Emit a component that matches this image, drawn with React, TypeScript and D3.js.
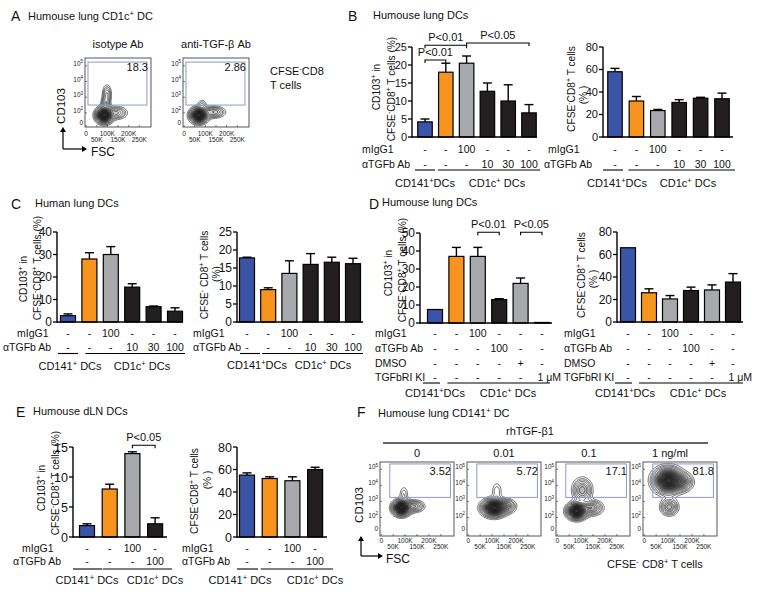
import React from "react";
import * as d3 from "d3";

const FONT = "'Liberation Sans', Arial, Helvetica, sans-serif";
const BLUE = "#3a55a5";
const ORANGE = "#f7941d";
const GRAY = "#a7a9ac";
const BLACK = "#231f20";
const GATE = "#8e98c9";

// ---------- bar panel data ----------
const groupNamesTight = ["CD141{+}DCs", "CD1c{+} DCs"];
const groupNamesSpaced = ["CD141{+} DCs", "CD1c{+} DCs"];

const bMIgG1 = ["-", "-", "100", "-", "-", "-"];
const bAntiTGFb = ["-", "-", "-", "10", "30", "100"];
const bColors = [BLUE, ORANGE, GRAY, BLACK, BLACK, BLACK];
const bCD103 = [4.2, 18, 20.5, 12.7, 10, 6.7];
const bCD103Err = [0.8, 2.5, 2.0, 2.3, 4.5, 2.3];
const bCFSE = [58, 32, 23.5, 30.7, 34.5, 34];
const bCFSEErr = [3, 4, 1, 2.5, 0.8, 5];

const cMIgG1 = ["-", "-", "100", "-", "-", "-"];
const cAntiTGFb = ["-", "-", "-", "10", "30", "100"];
const cColors = [BLUE, ORANGE, GRAY, BLACK, BLACK, BLACK];
const cCD103 = [2.8, 28, 30, 15.5, 6.8, 4.8];
const cCD103Err = [0.8, 2.8, 3.5, 1.5, 0.3, 1.5];
const cCFSE = [17.8, 9, 13.5, 16, 16.6, 16.2];
const cCFSEErr = [0.2, 0.5, 3.5, 3, 1.4, 1.5];

const dMIgG1 = ["-", "-", "100", "-", "-", "-"];
const dAntiTGFb = ["-", "-", "-", "100", "-", "-"];
const dDMSO = ["-", "-", "-", "-", "+", "-"];
const dKI = ["-", "-", "-", "-", "-", "1 μM"];
const dColors = [BLUE, ORANGE, GRAY, BLACK, GRAY, BLACK];
const dCD103 = [7.5, 37, 37, 13, 22, 0.3];
const dCD103Err = [0, 5, 5, 0.5, 3, 0];
const dCFSE = [66, 26, 20.5, 28, 28.5, 35.5];
const dCFSEErr = [0, 3.5, 3, 3, 4.5, 7.5];

const eMIgG1 = ["-", "-", "100", "-"];
const eAntiTGFb = ["-", "-", "-", "100"];
const eColors = [BLUE, ORANGE, GRAY, BLACK];
const eCD103 = [1.9, 8, 13.9, 2.2];
const eCD103Err = [0.3, 0.8, 0.3, 1.0];
const eCFSE = [55, 52, 50, 60];
const eCFSEErr = [2, 1.5, 3.5, 2];

// ---------- flow data ----------
const fscTicks = [0, 50, 100, 150, 200, 250];
const fscTickLabels = ["0", "50K", "100K", "150K", "200K", "250K"];
const cd103Decades = [5, 4, 3, 2];
const cd103DecadeLabels = ["10{5}", "10{4}", "10{3}", "10{2}"];

const aTitles = ["isotype Ab", "anti-TGF-β Ab"];
const aPercents = ["18.3", "2.86"];
// blobs: [FSC (K), log10 CD103, sd FSC (K), sd decade, weight]
const aBlobs: number[][][] = [
  [[85, 1.85, 21, 0.27, 1], [145, 2.0, 26, 0.22, 0.25], [98, 3.2, 12, 0.33, 0.2], [92, 2.6, 12, 0.25, 0.2]],
  [[70, 1.85, 22, 0.26, 1], [140, 2.05, 28, 0.2, 0.3], [85, 2.55, 12, 0.18, 0.1]],
];

const fDoses = ["0", "0.01", "0.1", "1 ng/ml"];
const fPercents = ["3.52", "5.72", "17.1", "81.8"];
const fBlobs: number[][][] = [
  [[85, 2.6, 20, 0.26, 1], [140, 2.7, 22, 0.2, 0.3], [95, 3.45, 11, 0.3, 0.1]],
  [[108, 2.6, 27, 0.29, 1], [160, 2.7, 22, 0.24, 0.3], [120, 3.65, 13, 0.33, 0.1]],
  [[82, 2.4, 22, 0.27, 1], [145, 2.6, 25, 0.25, 0.35], [105, 3.7, 22, 0.4, 0.35]],
  [[100, 4.3, 33, 0.42, 1], [160, 4.2, 24, 0.3, 0.35], [105, 2.65, 20, 0.28, 0.35]],
];

const contourLevels = [0.04, 0.07, 0.1, 0.14, 0.19, 0.24, 0.3, 0.36, 0.42, 0.48, 0.54, 0.6, 0.66, 0.72, 0.78, 0.84, 0.9, 0.95];

// ---------- helpers ----------
function Rich({ text, fs }: { text: string; fs: number }) {
  const parts = text.split(/(\{[^}]*\})/).filter((p) => p.length > 0);
  const out: React.ReactNode[] = [];
  let up = false;
  parts.forEach((p, i) => {
    if (p.startsWith("{")) {
      out.push(
        <tspan key={i} dy={-fs * 0.4} fontSize={fs * 0.68}>
          {p.slice(1, -1)}
        </tspan>
      );
      up = true;
    } else {
      out.push(
        <tspan key={i} dy={up ? fs * 0.4 : 0}>
          {p}
        </tspan>
      );
      up = false;
    }
  });
  return <>{out}</>;
}

function T(props: { x: number; y: number; text: string; fs: number; anchor?: string; rotate?: boolean }) {
  const { x, y, text, fs, anchor = "start", rotate = false } = props;
  if (rotate) {
    return (
      <text transform={`translate(${x},${y}) rotate(-90)`} fontSize={fs} textAnchor="middle" fontFamily={FONT} fill="#111">
        <Rich text={text} fs={fs} />
      </text>
    );
  }
  return (
    <text x={x} y={y} fontSize={fs} textAnchor={anchor as any} fontFamily={FONT} fill="#111">
      <Rich text={text} fs={fs} />
    </text>
  );
}

type Row = { label: string; labelX: number; y: number; values: string[] };
type Bracket = { from: number; to: number; level: number; text: string };
type PanelProps = {
  values: number[];
  errors: number[];
  colors: string[];
  axisX: number;
  zeroY: number;
  topY: number;
  max: number;
  tickStep: number;
  firstCenter: number;
  step: number;
  axisEnd: number;
  barWidth: number;
  tickFont: number;
  yLabels: { text: string; x: number; y: number }[];
  rows: Row[];
  underlineY: number;
  ul1: [number, number];
  ul2: [number, number];
  groups: { text: string; x: number; y: number }[];
  brackets?: Bracket[];
};

function BarPanel(p: PanelProps) {
  const n = p.values.length;
  const pad = 1 - p.barWidth / p.step;
  const start = p.firstCenter - p.step / 2;
  const x = d3
    .scaleBand<number>()
    .domain(d3.range(n))
    .range([start, start + n * p.step])
    .paddingInner(pad)
    .paddingOuter(pad / 2);
  const y = d3.scaleLinear().domain([0, p.max]).range([p.zeroY, p.topY]);
  const cx = (i: number) => (x(i) as number) + x.bandwidth() / 2;
  const ticks = d3.range(0, p.max + p.tickStep / 2, p.tickStep);
  return (
    <g>
      {p.values.map((v, i) => (
        <rect
          key={"b" + i}
          x={x(i)}
          y={y(v)}
          width={x.bandwidth()}
          height={Math.max(0.6, p.zeroY - y(v))}
          fill={p.colors[i]}
          stroke="#000"
          strokeWidth={1.2}
        />
      ))}
      {p.values.map((v, i) =>
        p.errors[i] > 0 ? (
          <g key={"e" + i} stroke="#000" strokeWidth={1.4}>
            <line x1={cx(i)} x2={cx(i)} y1={y(v)} y2={y(v + p.errors[i])} />
            <line x1={cx(i) - 4.5} x2={cx(i) + 4.5} y1={y(v + p.errors[i])} y2={y(v + p.errors[i])} />
          </g>
        ) : null
      )}
      <line x1={p.axisX} x2={p.axisX} y1={p.zeroY + 0.7} y2={p.topY} stroke="#000" strokeWidth={1.4} />
      <line x1={p.axisX} x2={p.axisEnd} y1={p.zeroY} y2={p.zeroY} stroke="#000" strokeWidth={1.4} />
      {ticks.map((t) => (
        <g key={"t" + t}>
          <line x1={p.axisX - 4} x2={p.axisX} y1={y(t)} y2={y(t)} stroke="#000" strokeWidth={1.3} />
          <text x={p.axisX - 5} y={y(t)} dy="0.36em" fontSize={p.tickFont} textAnchor="end" fontFamily={FONT} fill="#111">
            {t}
          </text>
        </g>
      ))}
      {p.yLabels.map((l, i) => (
        <T key={"yl" + i} x={l.x} y={l.y} text={l.text} fs={10.2} rotate />
      ))}
      {p.rows.map((r, ri) => (
        <g key={"r" + ri}>
          <T x={r.labelX} y={r.y} text={r.label} fs={10.5} />
          {r.values.map((v, i) =>
            v.includes(" ") ? (
              <T key={i} x={cx(i) + 19} y={r.y} text={v} fs={10.5} anchor="end" />
            ) : (
              <T key={i} x={cx(i)} y={r.y} text={v} fs={10.5} anchor="middle" />
            )
          )}
        </g>
      ))}
      <line x1={cx(0) + p.ul1[0]} x2={cx(0) + p.ul1[1]} y1={p.underlineY} y2={p.underlineY} stroke="#000" strokeWidth={1.1} />
      <line x1={cx(1) + p.ul2[0]} x2={cx(n - 1) + p.ul2[1]} y1={p.underlineY} y2={p.underlineY} stroke="#000" strokeWidth={1.1} />
      {p.groups.map((g, i) => (
        <T key={"g" + i} x={g.x} y={g.y} text={g.text} fs={11} anchor="middle" />
      ))}
      {(p.brackets || []).map((b, i) => {
        const yy = y(b.level);
        const x1 = cx(b.from);
        const x2 = cx(b.to);
        return (
          <g key={"br" + i}>
            <path d={`M${x1},${yy + 3}V${yy}H${x2}V${yy + 3}`} fill="none" stroke="#000" strokeWidth={1.1} />
            <T x={(x1 + x2) / 2} y={yy - 4} text={b.text} fs={11} anchor="middle" />
          </g>
        );
      })}
    </g>
  );
}

type FlowProps = {
  left: number;
  top: number;
  width: number;
  height: number;
  yDomain: [number, number];
  zeroDecade: number;
  blobs: number[][];
  gate: [number, number, number, number];
  percent: string;
  xLabelY: [number, number];
};

function FlowPlot(p: FlowProps) {
  const x = d3.scaleLinear().domain([-5, 305]).range([p.left, p.left + p.width]);
  const y = d3.scaleLinear().domain(p.yDomain).range([p.top + p.height, p.top]);
  const nx = 80;
  const ny = 80;
  const vals = new Array(nx * ny);
  for (let j = 0; j < ny; j++) {
    for (let i = 0; i < nx; i++) {
      const fsc = x.invert(p.left + ((i + 0.5) * p.width) / nx);
      const dec = y.invert(p.top + ((j + 0.5) * p.height) / ny);
      let s = 0;
      for (const b of p.blobs) {
        const dx = (fsc - b[0]) / b[2];
        const dy = (dec - b[1]) / b[3];
        s += b[4] * Math.exp(-0.5 * (dx * dx + dy * dy));
      }
      vals[j * nx + i] = s;
    }
  }
  const mx = d3.max(vals) as number;
  const contours = d3
    .contours()
    .size([nx, ny])
    .smooth(true)
    .thresholds(contourLevels.map((l) => l * mx))(vals);
  const left = p.left;
  const top = p.top;
  const w = p.width;
  const h = p.height;
  const tr = d3.geoTransform({
    point(px: number, py: number) {
      (this as any).stream.point(left + (px * w) / nx, top + (py * h) / ny);
    },
  });
  const path = d3.geoPath(tr as any);
  const id = `clip${p.left}_${p.top}`;
  return (
    <g>
      <clipPath id={id}>
        <rect x={p.left} y={p.top} width={p.width} height={p.height} />
      </clipPath>
      <g clipPath={`url(#${id})`}>
        {contours.map((c, i) => (
          <path
            key={i}
            d={path(c as any) || ""}
            fill={contourLevels[i] >= 0.19 ? "#000" : "none"}
            fillOpacity={contourLevels[i] >= 0.19 ? 0.1 : 0}
            stroke="#111"
            strokeWidth={0.6}
          />
        ))}
      </g>
      <rect
        x={x(p.gate[0])}
        y={y(p.gate[3])}
        width={x(p.gate[1]) - x(p.gate[0])}
        height={y(p.gate[2]) - y(p.gate[3])}
        fill="none"
        stroke={GATE}
        strokeWidth={1}
      />
      <rect x={p.left} y={p.top} width={p.width} height={p.height} fill="none" stroke="#444" strokeWidth={0.9} />
      {cd103Decades.map((d, i) => (
        <g key={"yd" + d}>
          <line x1={p.left} x2={p.left + 2} y1={y(d)} y2={y(d)} stroke="#444" strokeWidth={0.7} />
          <text x={p.left - 2} y={y(d)} dy="0.35em" fontSize={6.5} textAnchor="end" fontFamily={FONT} fill="#222">
            <Rich text={cd103DecadeLabels[i]} fs={6.5} />
          </text>
        </g>
      ))}
      <text x={p.left - 2} y={y(p.zeroDecade)} dy="0.35em" fontSize={6.5} textAnchor="end" fontFamily={FONT} fill="#222">
        0
      </text>
      {fscTicks.map((t, i) => (
        <g key={"xt" + t}>
          <line x1={x(t)} x2={x(t)} y1={p.top + p.height} y2={p.top + p.height - 2} stroke="#444" strokeWidth={0.7} />
          <text x={x(t)} y={p.xLabelY[i % 2]} fontSize={6.5} textAnchor="middle" fontFamily={FONT} fill="#222">
            {fscTickLabels[i]}
          </text>
        </g>
      ))}
      <text x={p.left + p.width - 3} y={p.top + 13} fontSize={11} textAnchor="end" fontFamily={FONT} fill="#111">
        {p.percent}
      </text>
    </g>
  );
}

function Arrows({ x, y, len }: { x: number; y: number; len: number }) {
  return (
    <g stroke="#000" strokeWidth={1.2} fill="#000">
      <line x1={x} y1={y} x2={x} y2={y - len + 4} />
      <line x1={x} y1={y} x2={x + len - 2} y2={y} />
      <path d={`M${x - 3},${y - len + 5}L${x},${y - len}L${x + 3},${y - len + 5}Z`} stroke="none" />
      <path d={`M${x + len - 3},${y - 3}L${x + len + 2},${y}L${x + len - 3},${y + 3}Z`} stroke="none" />
    </g>
  );
}

export default function App() {
  const aLefts = [85, 183];
  const fLefts = [380, 467, 556, 643];
  const fCenters = [417, 504, 589, 670];
  return (
    <svg width={762} height={594} style={{ position: "absolute", left: 0, top: 0, background: "#fff" }} fontFamily={FONT}>
      <rect x={0} y={0} width={762} height={594} fill="#fff" />

      {/* ---------- Panel A ---------- */}
      <T x={11} y={21} text="A" fs={14} />
      <T x={28} y={20} text="Humouse lung CD1c{+} DC" fs={11} />
      {aTitles.map((t, i) => (
        <T key={t} x={aLefts[i] + 33} y={48} text={t} fs={11} anchor="middle" />
      ))}
      {aBlobs.map((b, i) => (
        <FlowPlot
          key={"a" + i}
          left={aLefts[i]}
          top={58}
          width={66}
          height={69}
          yDomain={[1.1, 5.5]}
          zeroDecade={1.35}
          blobs={b}
          gate={[9, 286, 2.5, 5.24]}
          percent={aPercents[i]}
          xLabelY={[136, 142]}
        />
      ))}
      <T x={270} y={75} text="CFSE{-}CD8" fs={11} />
      <T x={270} y={89} text="T cells" fs={11} />
      <T x={65} y={106} text="CD103" fs={11.5} rotate />
      <Arrows x={63} y={149} len={22} />
      <T x={91} y={156} text="FSC" fs={12} />

      {/* ---------- Panel B ---------- */}
      <T x={348} y={21} text="B" fs={14} />
      <T x={373} y={19} text="Humouse lung DCs" fs={11} />
      <BarPanel
        values={bCD103}
        errors={bCD103Err}
        colors={bColors}
        axisX={412}
        zeroY={137}
        topY={47}
        max={25}
        tickStep={5}
        firstCenter={425}
        step={20.8}
        axisEnd={537}
        barWidth={14.5}
        tickFont={11}
        yLabels={[
          { text: "CD103{+} in", x: 380, y: 87 },
          { text: "CFSE{-}CD8{+} T cells (%)", x: 395, y: 89 },
        ]}
        rows={[
          { label: "mIgG1", labelX: 362, y: 153, values: bMIgG1 },
          { label: "αTGFb Ab", labelX: 362, y: 168, values: bAntiTGFb },
        ]}
        underlineY={170}
        ul1={[-10, 10]}
        ul2={[-8, 11]}
        groups={[
          { text: groupNamesTight[0], x: 425, y: 187 },
          { text: groupNamesSpaced[1], x: 497, y: 187 },
        ]}
        brackets={[
          { from: 0, to: 2, level: 25.5, text: "P<0.01" },
          { from: 0, to: 1, level: 21.4, text: "P<0.01" },
          { from: 2, to: 5, level: 26.1, text: "P<0.05" },
        ]}
      />
      <BarPanel
        values={bCFSE}
        errors={bCFSEErr}
        colors={bColors}
        axisX={603}
        zeroY={137}
        topY={47}
        max={80}
        tickStep={20}
        firstCenter={615}
        step={21.4}
        axisEnd={733}
        barWidth={14.5}
        tickFont={11}
        yLabels={[
          { text: "CFSE{-}CD8{+} T cells", x: 575, y: 89 },
          { text: "(% )", x: 587, y: 95 },
        ]}
        rows={[
          { label: "mIgG1", labelX: 548, y: 153, values: bMIgG1 },
          { label: "αTGFb Ab", labelX: 544, y: 168, values: bAntiTGFb },
        ]}
        underlineY={170}
        ul1={[-12, 8]}
        ul2={[-8, 13]}
        groups={[
          { text: groupNamesTight[0], x: 617, y: 187 },
          { text: groupNamesSpaced[1], x: 688, y: 187 },
        ]}
      />

      {/* ---------- Panel C ---------- */}
      <T x={11} y={209} text="C" fs={14} />
      <T x={35} y={207} text="Human lung DCs" fs={11} />
      <BarPanel
        values={cCD103}
        errors={cCD103Err}
        colors={cColors}
        axisX={57}
        zeroY={322}
        topY={232}
        max={40}
        tickStep={10}
        firstCenter={68}
        step={21.4}
        axisEnd={183}
        barWidth={15}
        tickFont={12}
        yLabels={[
          { text: "CD103{+} in", x: 27, y: 279 },
          { text: "CFSE{-}CD8{+} T cells (%)", x: 41, y: 268 },
        ]}
        rows={[
          { label: "mIgG1", labelX: 17, y: 337, values: cMIgG1 },
          { label: "αTGFb Ab", labelX: 3, y: 351, values: cAntiTGFb },
        ]}
        underlineY={353.5}
        ul1={[-10, 10]}
        ul2={[-4, 10]}
        groups={[
          { text: groupNamesSpaced[0], x: 70, y: 370 },
          { text: groupNamesSpaced[1], x: 142, y: 370 },
        ]}
      />
      <BarPanel
        values={cCFSE}
        errors={cCFSEErr}
        colors={cColors}
        axisX={237}
        zeroY={322}
        topY={232}
        max={25}
        tickStep={5}
        firstCenter={247}
        step={21.2}
        axisEnd={363}
        barWidth={15}
        tickFont={12}
        yLabels={[
          { text: "CFSE{-} CD8{+} T cells", x: 208, y: 275 },
          { text: "(%)", x: 220, y: 274 },
        ]}
        rows={[
          { label: "mIgG1", labelX: 193, y: 337, values: cMIgG1 },
          { label: "αTGFb Ab", labelX: 193, y: 351, values: cAntiTGFb },
        ]}
        underlineY={353.5}
        ul1={[-7, 13]}
        ul2={[-6, 10]}
        groups={[
          { text: groupNamesTight[0], x: 257, y: 369 },
          { text: groupNamesSpaced[1], x: 323, y: 369 },
        ]}
      />

      {/* ---------- Panel D ---------- */}
      <T x={369} y={209} text="D" fs={14} />
      <T x={382} y={206} text="Humouse lung DCs" fs={11} />
      <BarPanel
        values={dCD103}
        errors={dCD103Err}
        colors={dColors}
        axisX={420}
        zeroY={323}
        topY={233}
        max={50}
        tickStep={10}
        firstCenter={435}
        step={21.4}
        axisEnd={552}
        barWidth={15}
        tickFont={12}
        yLabels={[
          { text: "CD103{+} in", x: 392, y: 273 },
          { text: "CFSE{-}CD8{+} T cells (%)", x: 406, y: 270 },
        ]}
        rows={[
          { label: "mIgG1", labelX: 375, y: 337, values: dMIgG1 },
          { label: "αTGFb Ab", labelX: 375, y: 352, values: dAntiTGFb },
          { label: "DMSO", labelX: 375, y: 367, values: dDMSO },
          { label: "TGFbRI KI", labelX: 375, y: 381, values: dKI },
        ]}
        underlineY={383}
        ul1={[-12, 5]}
        ul2={[-9, 8]}
        groups={[
          { text: groupNamesTight[0], x: 435, y: 397 },
          { text: groupNamesSpaced[1], x: 508, y: 397 },
        ]}
        brackets={[
          { from: 2, to: 3, level: 50.4, text: "P<0.01" },
          { from: 4, to: 5, level: 50.4, text: "P<0.05" },
        ]}
      />
      <BarPanel
        values={dCFSE}
        errors={dCFSEErr}
        colors={dColors}
        axisX={617}
        zeroY={322}
        topY={232}
        max={80}
        tickStep={20}
        firstCenter={628}
        step={21}
        axisEnd={743}
        barWidth={15}
        tickFont={12}
        yLabels={[
          { text: "CFSE{-}CD8{+} T cells", x: 585, y: 275 },
          { text: "(% )", x: 597, y: 279 },
        ]}
        rows={[
          { label: "mIgG1", labelX: 564, y: 337, values: dMIgG1 },
          { label: "αTGFb Ab", labelX: 564, y: 352, values: dAntiTGFb },
          { label: "DMSO", labelX: 564, y: 367, values: dDMSO },
          { label: "TGFbRI KI", labelX: 564, y: 381, values: dKI },
        ]}
        underlineY={383}
        ul1={[-13, 4]}
        ul2={[-10, 10]}
        groups={[
          { text: groupNamesTight[0], x: 625, y: 397 },
          { text: groupNamesSpaced[1], x: 698, y: 397 },
        ]}
      />

      {/* ---------- Panel E ---------- */}
      <T x={16} y={417} text="E" fs={14} />
      <T x={33} y={415} text="Humouse dLN DCs" fs={11} />
      <BarPanel
        values={eCD103}
        errors={eCD103Err}
        colors={eColors}
        axisX={73}
        zeroY={537}
        topY={447}
        max={15}
        tickStep={5}
        firstCenter={87}
        step={22.7}
        axisEnd={167}
        barWidth={15}
        tickFont={12.5}
        yLabels={[
          { text: "CD103{+} in", x: 45, y: 488 },
          { text: "CFSE{-}CD8{+} T cells (%)", x: 59, y: 483 },
        ]}
        rows={[
          { label: "mIgG1", labelX: 22, y: 552, values: eMIgG1 },
          { label: "αTGFb Ab", labelX: 13, y: 565, values: eAntiTGFb },
        ]}
        underlineY={569}
        ul1={[-14, 15]}
        ul2={[-7, 17]}
        groups={[
          { text: groupNamesSpaced[0], x: 87, y: 584 },
          { text: groupNamesSpaced[1], x: 155, y: 584 },
        ]}
        brackets={[{ from: 2, to: 3, level: 15.3, text: "P<0.05" }]}
      />
      <BarPanel
        values={eCFSE}
        errors={eCFSEErr}
        colors={eColors}
        axisX={237}
        zeroY={537}
        topY={447}
        max={80}
        tickStep={20}
        firstCenter={247}
        step={22.7}
        axisEnd={327}
        barWidth={15}
        tickFont={12.5}
        yLabels={[
          { text: "CFSE{-}CD8{+} T cells", x: 198, y: 491 },
          { text: "(% )", x: 211, y: 480 },
        ]}
        rows={[
          { label: "mIgG1", labelX: 182, y: 552, values: eMIgG1 },
          { label: "αTGFb Ab", labelX: 182, y: 565, values: eAntiTGFb },
        ]}
        underlineY={569}
        ul1={[-10, 11]}
        ul2={[-9, 18]}
        groups={[
          { text: groupNamesSpaced[0], x: 240, y: 584 },
          { text: groupNamesSpaced[1], x: 315, y: 584 },
        ]}
      />

      {/* ---------- Panel F ---------- */}
      <T x={357} y={417} text="F" fs={14} />
      <T x={378} y={417} text="Humouse lung CD141{+} DC" fs={11} />
      <T x={530} y={435} text="rhTGF-β1" fs={11} anchor="middle" />
      <line x1={383} x2={708} y1={443} y2={443} stroke="#333" strokeWidth={1.4} />
      {fDoses.map((d, i) => (
        <T key={d} x={fCenters[i]} y={457} text={d} fs={11} anchor="middle" />
      ))}
      {fBlobs.map((b, i) => (
        <FlowPlot
          key={"f" + i}
          left={fLefts[i]}
          top={462}
          width={74}
          height={74}
          yDomain={[0.85, 5.45]}
          zeroDecade={1.3}
          blobs={b}
          gate={[36, 290, 3.25, 5.33]}
          percent={fPercents[i]}
          xLabelY={[543, 549]}
        />
      ))}
      <T x={363} y={505} text="CD103" fs={11.5} rotate />
      <Arrows x={361} y={556} len={20} />
      <T x={386} y={563} text="FSC" fs={12} />
      <T x={607} y={568} text="CFSE{-} CD8{+} T cells" fs={11} />
    </svg>
  );
}
